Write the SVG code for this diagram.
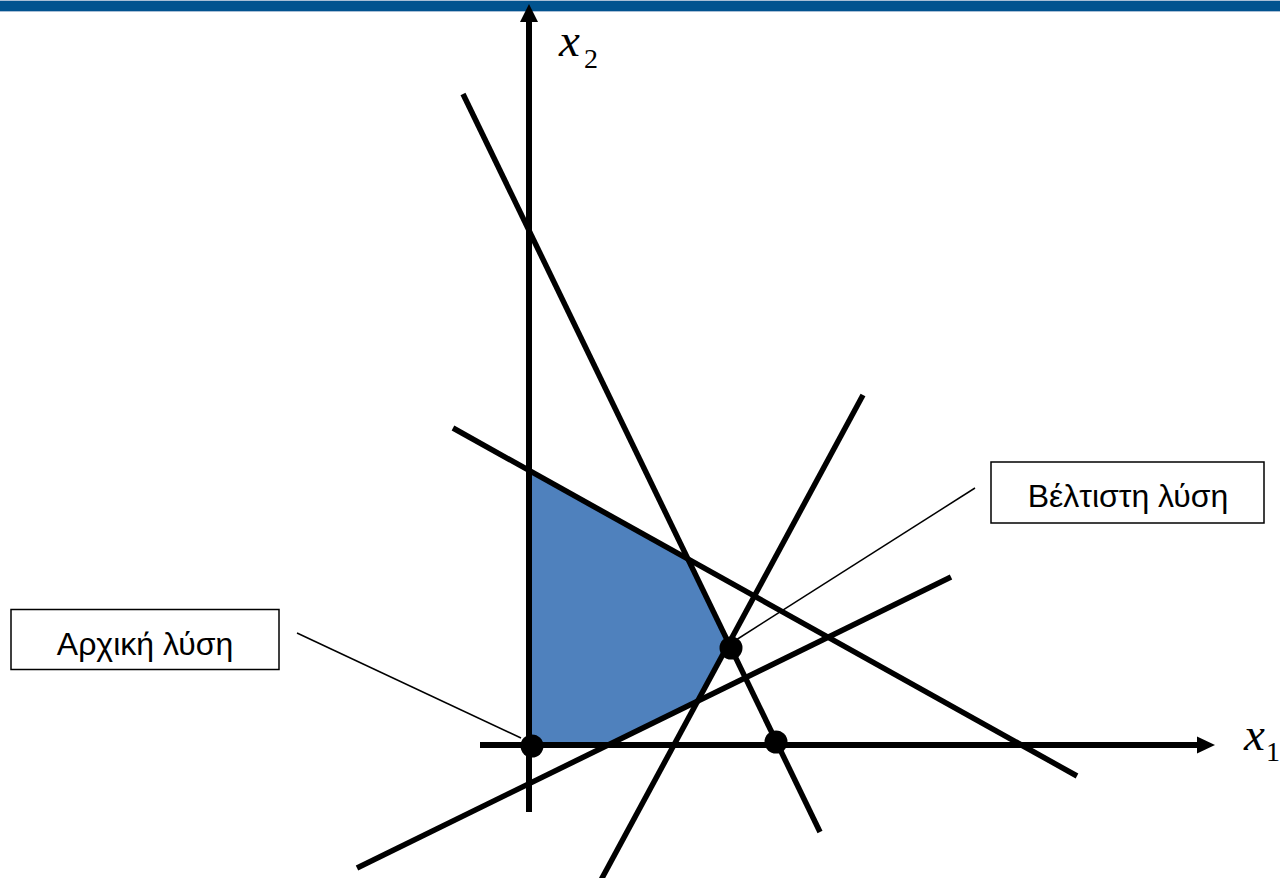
<svg xmlns="http://www.w3.org/2000/svg" width="1280" height="878" viewBox="0 0 1280 878">
<style>
.ln{stroke:#000;stroke-width:5.5;fill:none}
.ax{stroke:#000;stroke-width:6;fill:none}
.thin{stroke:#000;stroke-width:1.5;fill:none}
.pt{fill:#000}
.box{fill:#fff;stroke:#000;stroke-width:1.5}
.lbl{font-family:"Liberation Sans",Arial,sans-serif;font-size:32px;fill:#000;text-anchor:middle}
.var{font-family:"Liberation Serif","Times New Roman",serif;font-style:italic;font-size:47px;fill:#000}
.sub{font-family:"Liberation Serif","Times New Roman",serif;font-size:28px;fill:#000}
</style>
<rect x="0" y="0" width="1280" height="878" fill="#fff"/>
<rect x="0" y="0" width="1280" height="12" fill="#a9bfd6"/>
<rect x="0" y="1" width="1280" height="10" fill="#02538f"/>
<g id="region">
<polygon points="529,470 687,558 729,644 698,701 608,745 529,745" fill="#4f81bd"/>
</g>
<g id="connectors">
<line class="ax" x1="529" y1="812" x2="529" y2="20"/>
<polygon points="529,4 520,22 538,22" fill="#000"/>
<line class="ax" x1="480" y1="745" x2="1198" y2="745"/>
<polygon points="1215,745 1197,736.5 1197,753.5" fill="#000"/>
<line class="ln" x1="463" y1="94" x2="820" y2="832"/>
<line class="ln" x1="453" y1="428" x2="1077" y2="776"/>
<line class="ln" x1="863" y1="395" x2="601" y2="880"/>
<line class="ln" x1="357" y1="868" x2="951" y2="577"/>
<line class="thin" x1="297" y1="633" x2="521" y2="738"/>
<line class="thin" x1="975" y1="488" x2="736" y2="640"/>
</g>
<g id="points">
<circle class="pt" cx="532" cy="746" r="11.5"/>
<circle class="pt" cx="731" cy="648" r="11.5"/>
<circle class="pt" cx="776" cy="742" r="11.5"/>
</g>
<g id="axis-x2">
<text class="var" x="559" y="56">x</text><text class="sub" x="584" y="68">2</text>
</g>
<g id="axis-x1">
<text class="var" x="1244" y="750">x</text><text class="sub" x="1266" y="761">1</text>
</g>
<g id="initial-solution">
<rect class="box" x="11" y="609.5" width="268" height="60"/>
<text class="lbl" x="145" y="655">Αρχική λύση</text>
</g>
<g id="optimal-solution">
<rect class="box" x="991" y="462" width="273" height="61"/>
<text class="lbl" x="1128" y="507">Βέλτιστη λύση</text>
</g>
</svg>
